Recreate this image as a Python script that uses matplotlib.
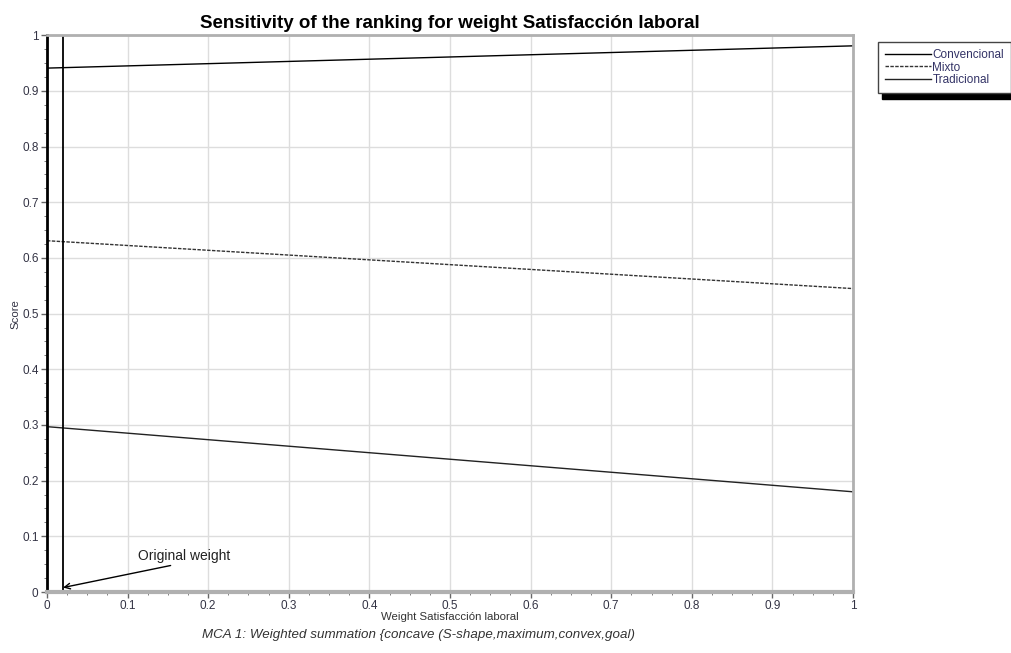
import matplotlib.pyplot as plt
from matplotlib.ticker import MultipleLocator, FormatStrFormatter

plt.rcParams['font.family'] = ['Liberation Sans', 'DejaVu Sans']

# Datos (peso 0 y peso 1)
weights = [0.0, 1.0]
convencional = [0.941, 0.981]
mixto = [0.631, 0.545]
tradicional = [0.297, 0.180]
original_weight = 0.02

fig = plt.figure(figsize=(10.12, 6.53), dpi=100)
ax = fig.add_axes([0.0464, 0.0934, 0.7965, 0.8526])

ax.plot(weights, convencional, color='black', lw=1.0, label='Convencional')
ax.plot(weights, mixto, color='#333333', lw=1.0, ls=(0, (2.5, 1)), label='Mixto')
ax.plot(weights, tradicional, color='#222222', lw=1.0, label='Tradicional')

ax.axvline(original_weight, color='black', lw=1.3)

ax.set_xlim(0, 1)
ax.set_ylim(0, 1)
ax.xaxis.set_major_locator(MultipleLocator(0.1))
ax.yaxis.set_major_locator(MultipleLocator(0.1))
ax.xaxis.set_minor_locator(MultipleLocator(0.025))
ax.yaxis.set_minor_locator(MultipleLocator(0.025))
ax.xaxis.set_major_formatter(FormatStrFormatter('%g'))
ax.yaxis.set_major_formatter(FormatStrFormatter('%g'))
ax.tick_params(labelsize=8.5, colors='#666666', labelcolor='#333344', length=4, width=1, pad=2)
ax.tick_params(which='minor', length=2.5, colors='#666666')
ax.grid(True, color='#dddddd', lw=1.0)

for side in ['top', 'right', 'bottom']:
    ax.spines[side].set_color('#b0b0b0')
    ax.spines[side].set_linewidth(2)
ax.spines['bottom'].set_linewidth(3)
ax.spines['left'].set_color('black')
ax.spines['left'].set_linewidth(2)

ax.set_title('Sensitivity of the ranking for weight Satisfacción laboral',
             fontsize=13.5, fontweight='bold', pad=5)
ax.set_xlabel('Weight Satisfacción laboral', fontsize=8.2, labelpad=0, color='#333333')
ax.set_ylabel('Score', fontsize=8.2, labelpad=1, color='#333344')

ax.annotate('Original weight', xy=(original_weight, 0.008), xytext=(0.113, 0.058),
            fontsize=10, color='#222222',
            arrowprops=dict(arrowstyle='->', color='black', lw=1,
                            shrinkA=0, shrinkB=0, relpos=(0.5, 0.0)))

fig.text(0.414, 0.023, 'MCA 1: Weighted summation {concave (S-shape,maximum,convex,goal)',
         fontsize=9.6, style='italic', ha='center', color='#333333')

leg = ax.legend(loc='upper left', bbox_to_anchor=(1.031, 0.988), fontsize=8.5,
                frameon=True, fancybox=False,
                shadow={'color': 'black', 'alpha': 1, 'ox': 3, 'oy': -4},
                handlelength=3.9, handletextpad=0.1, borderpad=0.6, labelspacing=0.05,
                borderaxespad=0)
leg.get_frame().set_edgecolor('#444444')
for t in leg.get_texts():
    t.set_color('#333366')

fig.savefig('out.png', dpi=100)
